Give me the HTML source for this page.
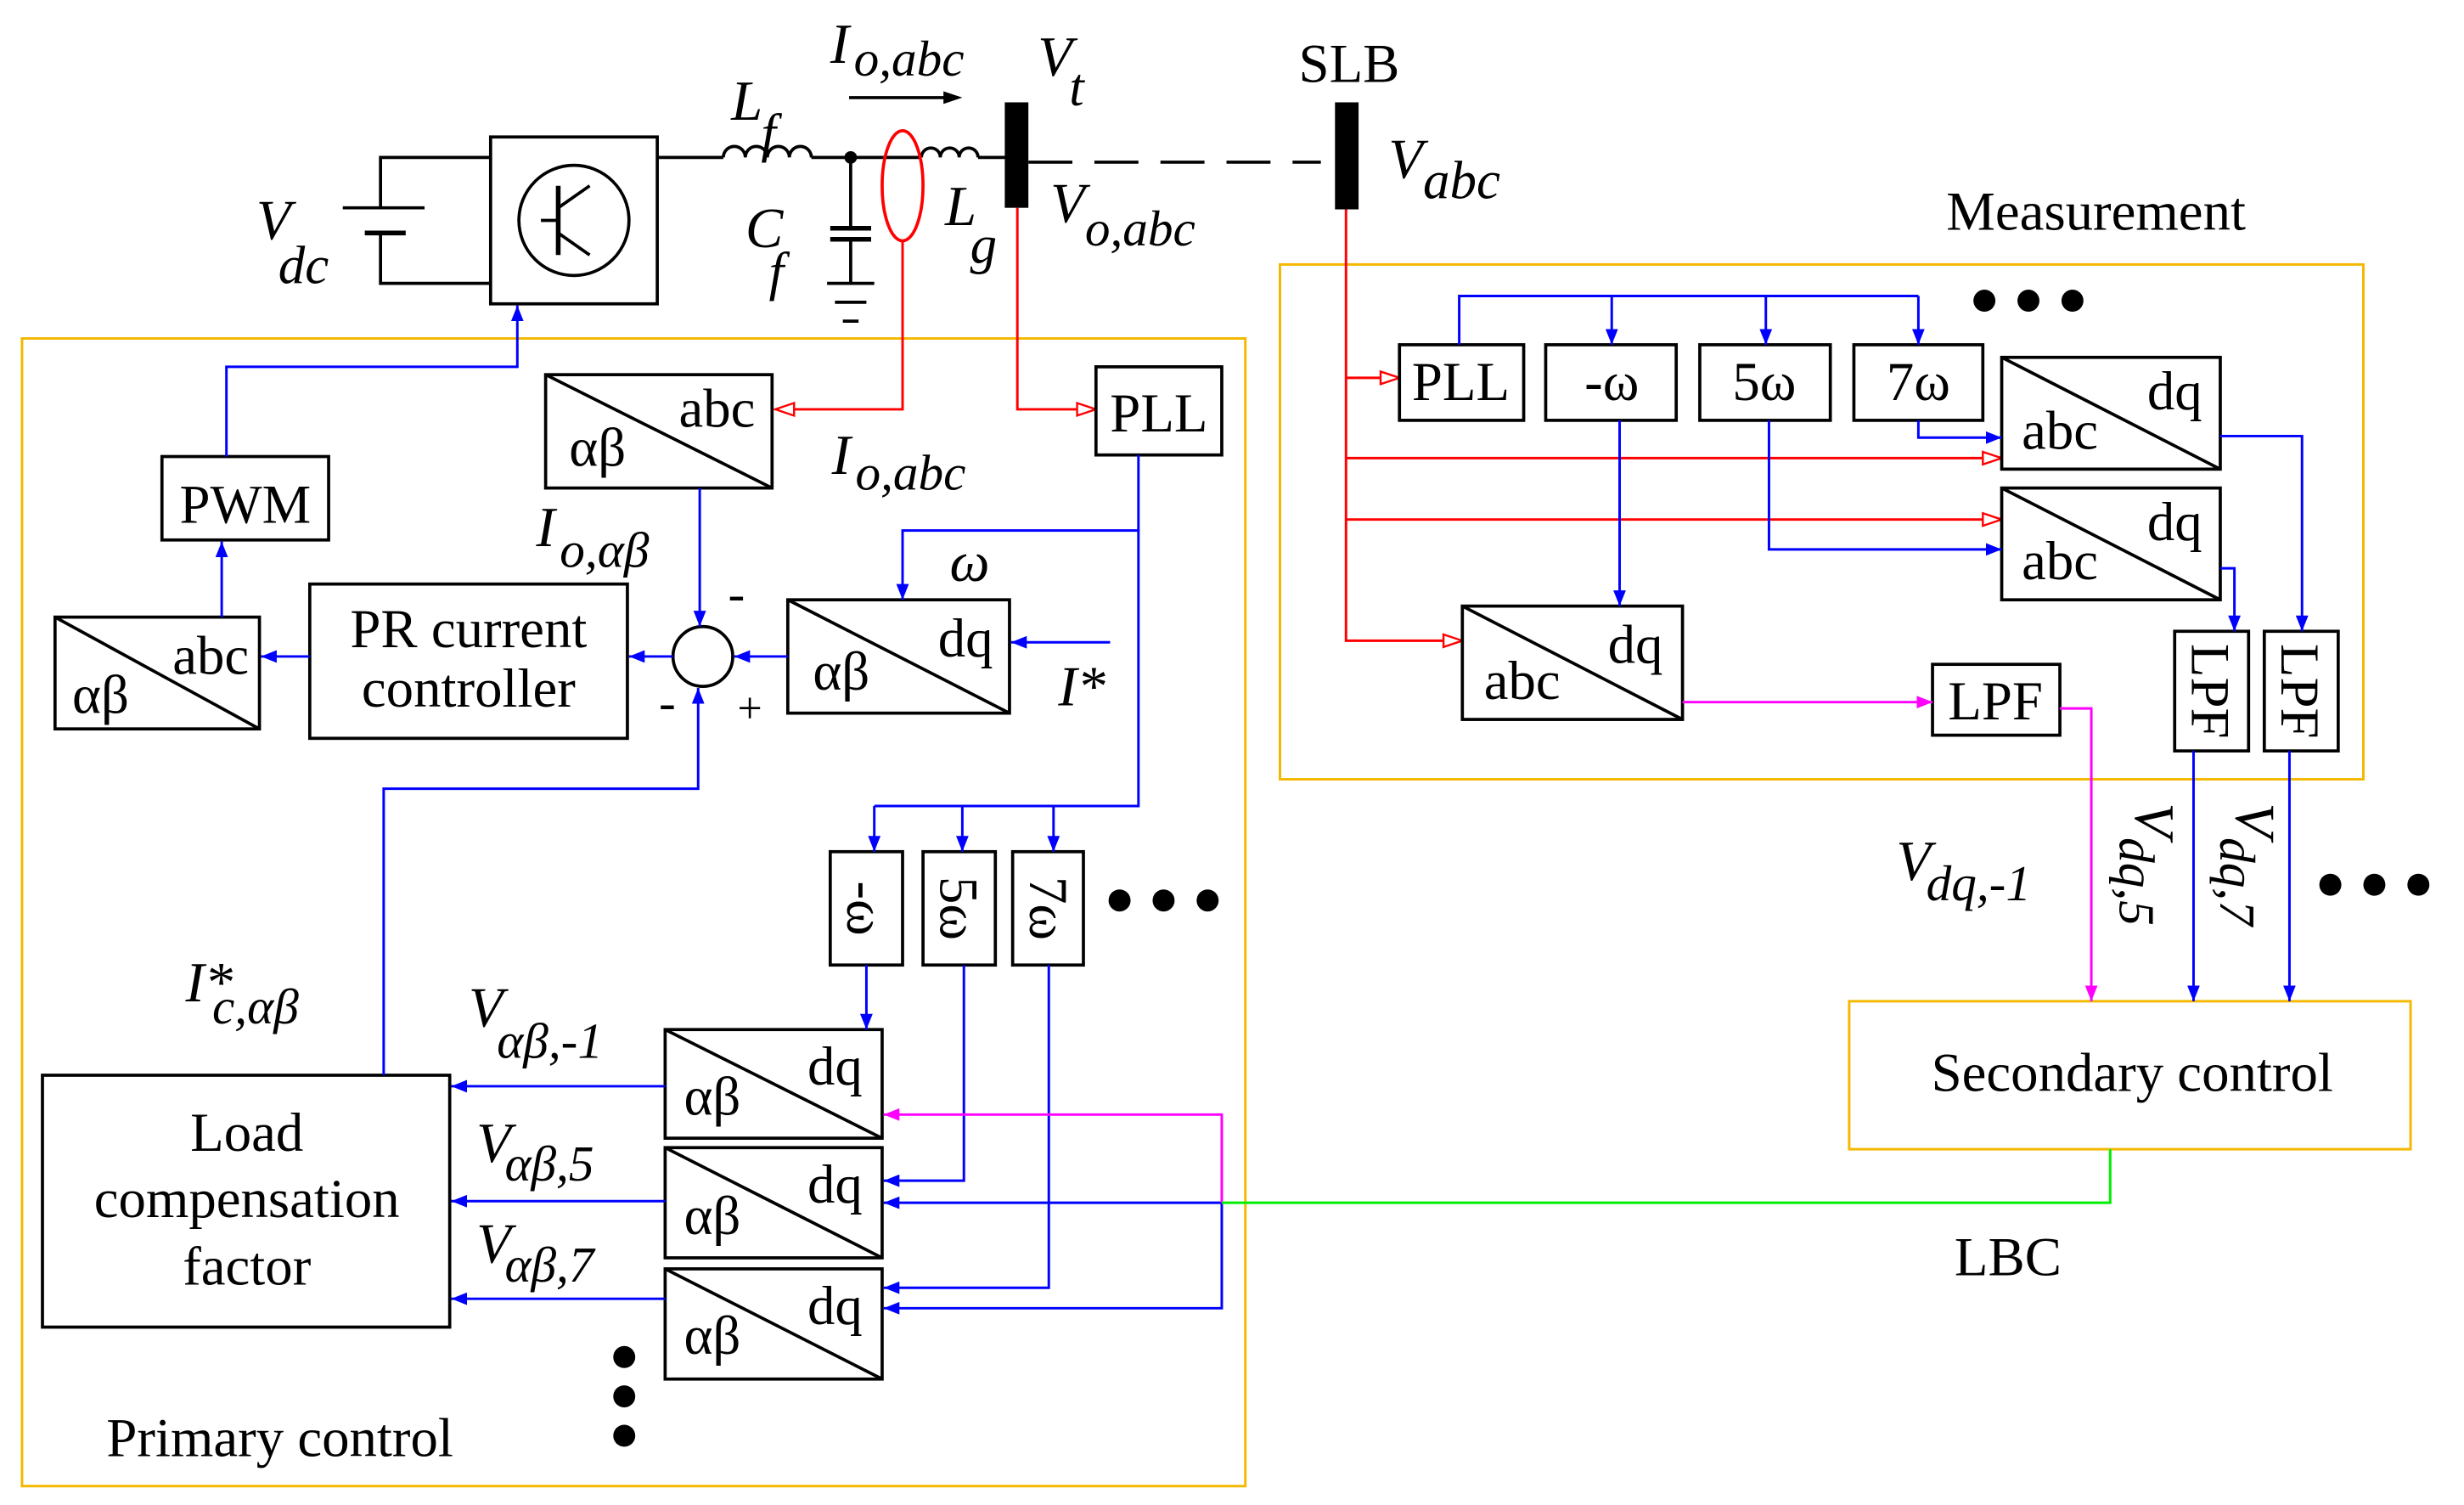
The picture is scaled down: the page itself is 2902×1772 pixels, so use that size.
<!DOCTYPE html>
<html><head><meta charset="utf-8"><style>
html,body{margin:0;padding:0;background:#fff}
svg{display:block}
text{font-family:"Liberation Serif",serif;fill:#000}
.i{font-style:italic}
</style></head><body>
<svg width="2902" height="1772" viewBox="0 0 1567 956" preserveAspectRatio="none" xmlns="http://www.w3.org/2000/svg">
<defs>
<marker id="b" markerWidth="10" markerHeight="8" refX="10" refY="4" orient="auto" markerUnits="userSpaceOnUse"><path d="M0,0L10,4L0,8z" fill="#0000ff"/></marker>
<marker id="m" markerWidth="10" markerHeight="8" refX="10" refY="4" orient="auto" markerUnits="userSpaceOnUse"><path d="M0,0L10,4L0,8z" fill="#ff00ff"/></marker>
<marker id="r" markerWidth="14" markerHeight="10" refX="13" refY="5" orient="auto" markerUnits="userSpaceOnUse"><path d="M1,1L13,5L1,9z" fill="#fff" stroke="#ff0000" stroke-width="1.3"/></marker>
</defs>
<rect width="1600" height="1000" fill="#fff"/>
<g fill="none" stroke="#f5b800" stroke-width="1.6">
<rect x="14" y="215" width="778" height="729"/>
<rect x="814" y="168" width="689" height="327"/>
<rect x="1176" y="636" width="357" height="94"/>
</g>
<g fill="none" stroke="#000" stroke-width="2">
<polyline points="312,100 242,100 242,132"/>
<polyline points="312,180 242,180 242,148"/>
<line x1="218" y1="132" x2="270" y2="132"/>
<line x1="232" y1="148" x2="258" y2="148" stroke-width="3"/>
<rect x="312" y="87" width="106" height="106"/>
<circle cx="365" cy="140" r="35"/>
<line x1="355" y1="118" x2="355" y2="162" stroke-width="3"/>
<line x1="344" y1="140" x2="355" y2="140"/>
<line x1="355" y1="132" x2="375" y2="118"/>
<line x1="355" y1="148" x2="375" y2="162"/>
<line x1="418" y1="100" x2="460" y2="100"/>
<path d="M460,100 a7,7 0 0 1 14,0 a7,7 0 0 1 14,0 a7,7 0 0 1 14,0 a7,7 0 0 1 14,0"/>
<line x1="516" y1="100" x2="586" y2="100"/>
<path d="M586,100 a6,6 0 0 1 12,0 a6,6 0 0 1 12,0 a6,6 0 0 1 12,0"/>
<line x1="622" y1="100" x2="640" y2="100"/>
<line x1="541" y1="100" x2="541" y2="145"/>
<line x1="528" y1="145" x2="554" y2="145" stroke-width="3"/>
<line x1="528" y1="152" x2="554" y2="152" stroke-width="3"/>
<line x1="541" y1="152" x2="541" y2="180"/>
<line x1="526" y1="180" x2="556" y2="180"/>
<line x1="531" y1="192" x2="551" y2="192"/>
<line x1="536" y1="204" x2="546" y2="204"/>
<line x1="654" y1="103" x2="840" y2="103" stroke-dasharray="28,14"/>
<line x1="540" y1="62" x2="604" y2="62"/>
</g>
<path d="M612,62 L600,58 L600,66z" fill="#000"/>
<circle cx="541" cy="100" r="4" fill="#000"/>
<rect x="639" y="65" width="15" height="67" fill="#000"/>
<rect x="849" y="65" width="15" height="68" fill="#000"/>
<ellipse cx="574" cy="118" rx="13" ry="35" fill="none" stroke="#ff0000" stroke-width="2"/>
<g fill="none" stroke="#ff0000" stroke-width="1.6">
<polyline points="574,153 574,260 493,260" marker-end="url(#r)"/>
<polyline points="647,132 647,260 697,260" marker-end="url(#r)"/>
<polyline points="856,133 856,407 930,407" marker-end="url(#r)"/>
<line x1="856" y1="240" x2="890" y2="240" marker-end="url(#r)"/>
<line x1="856" y1="291" x2="1273" y2="291" marker-end="url(#r)"/>
<line x1="856" y1="330" x2="1273" y2="330" marker-end="url(#r)"/>
</g>
<g fill="#fff" stroke="#000" stroke-width="2">
<rect x="347" y="238" width="144" height="72"/><line x1="347" y1="238" x2="491" y2="310"/>
<rect x="697" y="233" width="80" height="56"/>
<rect x="103" y="290" width="106" height="53"/>
<rect x="35" y="392" width="130" height="71"/><line x1="35" y1="392" x2="165" y2="463"/>
<rect x="197" y="371" width="202" height="98"/>
<circle cx="447" cy="417" r="19"/>
<rect x="501" y="381" width="141" height="72"/><line x1="501" y1="381" x2="642" y2="453"/>
<rect x="528" y="541" width="46" height="72"/>
<rect x="587" y="541" width="46" height="72"/>
<rect x="644" y="541" width="45" height="72"/>
<rect x="27" y="683" width="259" height="160"/>
<rect x="423" y="654" width="138" height="69"/><line x1="423" y1="654" x2="561" y2="723"/>
<rect x="423" y="729" width="138" height="70"/><line x1="423" y1="729" x2="561" y2="799"/>
<rect x="423" y="806" width="138" height="70"/><line x1="423" y1="806" x2="561" y2="876"/>
<rect x="890" y="219" width="79" height="48"/>
<rect x="983" y="219" width="83" height="48"/>
<rect x="1081" y="219" width="83" height="48"/>
<rect x="1179" y="219" width="82" height="48"/>
<rect x="1273" y="227" width="139" height="71"/><line x1="1273" y1="227" x2="1412" y2="298"/>
<rect x="1273" y="310" width="139" height="71"/><line x1="1273" y1="310" x2="1412" y2="381"/>
<rect x="930" y="385" width="140" height="72"/><line x1="930" y1="385" x2="1070" y2="457"/>
<rect x="1229" y="422" width="81" height="45"/>
<rect x="1383" y="401" width="47" height="76"/>
<rect x="1440" y="401" width="47" height="76"/>
</g>
<g fill="none" stroke="#0000ff" stroke-width="1.6">
<line x1="445" y1="310" x2="445" y2="398" marker-end="url(#b)"/>
<polyline points="724,289 724,337 574,337 574,381" marker-end="url(#b)"/>
<polyline points="724,337 724,512 556,512"/>
<line x1="556" y1="512" x2="556" y2="541" marker-end="url(#b)"/>
<line x1="612" y1="512" x2="612" y2="541" marker-end="url(#b)"/>
<line x1="670" y1="512" x2="670" y2="541" marker-end="url(#b)"/>
<line x1="706" y1="408" x2="643" y2="408" marker-end="url(#b)"/>
<line x1="501" y1="417" x2="467" y2="417" marker-end="url(#b)"/>
<line x1="428" y1="417" x2="400" y2="417" marker-end="url(#b)"/>
<line x1="197" y1="417" x2="166" y2="417" marker-end="url(#b)"/>
<line x1="141" y1="392" x2="141" y2="344" marker-end="url(#b)"/>
<polyline points="144,290 144,233 329,233 329,194" marker-end="url(#b)"/>
<polyline points="244,683 244,501 444,501 444,437" marker-end="url(#b)"/>
<line x1="423" y1="690" x2="287" y2="690" marker-end="url(#b)"/>
<line x1="423" y1="763" x2="287" y2="763" marker-end="url(#b)"/>
<line x1="423" y1="825" x2="287" y2="825" marker-end="url(#b)"/>
<line x1="551" y1="613" x2="551" y2="654" marker-end="url(#b)"/>
<polyline points="613,613 613,750 562,750" marker-end="url(#b)"/>
<polyline points="667,613 667,818 562,818" marker-end="url(#b)"/>
<line x1="777" y1="764" x2="562" y2="764" marker-end="url(#b)"/>
<polyline points="777,764 777,831 562,831" marker-end="url(#b)"/>
<polyline points="928,219 928,188 1220,188"/>
<line x1="1025" y1="188" x2="1025" y2="219" marker-end="url(#b)"/>
<line x1="1123" y1="188" x2="1123" y2="219" marker-end="url(#b)"/>
<line x1="1220" y1="188" x2="1220" y2="219" marker-end="url(#b)"/>
<polyline points="1220,267 1220,278 1273,278" marker-end="url(#b)"/>
<line x1="1030" y1="267" x2="1030" y2="385" marker-end="url(#b)"/>
<polyline points="1125,267 1125,349 1273,349" marker-end="url(#b)"/>
<polyline points="1412,277 1464,277 1464,401" marker-end="url(#b)"/>
<polyline points="1412,361 1421,361 1421,401" marker-end="url(#b)"/>
<line x1="1395" y1="477" x2="1395" y2="636" marker-end="url(#b)"/>
<line x1="1456" y1="477" x2="1456" y2="636" marker-end="url(#b)"/>
</g>
<g fill="none" stroke="#ff00ff" stroke-width="1.6">
<polyline points="777,764 777,708 562,708" marker-end="url(#m)"/>
<line x1="1070" y1="446" x2="1229" y2="446" marker-end="url(#m)"/>
<polyline points="1310,450 1330,450 1330,636" marker-end="url(#m)"/>
</g>
<polyline points="1342,730 1342,764 777,764" fill="none" stroke="#00ee00" stroke-width="1.6"/>
<g fill="#000">
<circle cx="1262" cy="191" r="7"/><circle cx="1290" cy="191" r="7"/><circle cx="1318" cy="191" r="7"/>
<circle cx="712" cy="572" r="7"/><circle cx="740" cy="572" r="7"/><circle cx="768" cy="572" r="7"/>
<circle cx="1482" cy="562" r="7"/><circle cx="1510" cy="562" r="7"/><circle cx="1538" cy="562" r="7"/>
<circle cx="397" cy="862" r="7"/><circle cx="397" cy="887" r="7"/><circle cx="397" cy="912" r="7"/>
</g>
<g font-size="35">
<text x="456" y="271" text-anchor="middle">abc</text>
<text x="737" y="274" text-anchor="middle">PLL</text>
<text x="156" y="332" text-anchor="middle">PWM</text>
<text x="134" y="428" text-anchor="middle">abc</text>
<text x="64" y="453" text-anchor="middle">αβ</text>
<text x="298" y="411" text-anchor="middle">PR current</text>
<text x="298" y="449" text-anchor="middle">controller</text>
<text x="614" y="417" text-anchor="middle">dq</text>
<text x="535" y="438" text-anchor="middle">αβ</text>
<text x="380" y="296" text-anchor="middle">αβ</text>
<text x="157" y="731" text-anchor="middle">Load</text>
<text x="157" y="773" text-anchor="middle">compensation</text>
<text x="157" y="816" text-anchor="middle">factor</text>
<text x="531" y="689" text-anchor="middle">dq</text><text x="453" y="708" text-anchor="middle">αβ</text>
<text x="531" y="764" text-anchor="middle">dq</text><text x="453" y="784" text-anchor="middle">αβ</text>
<text x="531" y="841" text-anchor="middle">dq</text><text x="453" y="860" text-anchor="middle">αβ</text>
<text x="929" y="254" text-anchor="middle">PLL</text>
<text x="1025" y="254" text-anchor="middle">-ω</text>
<text x="1122" y="254" text-anchor="middle">5ω</text>
<text x="1220" y="254" text-anchor="middle">7ω</text>
<text x="1383" y="260" text-anchor="middle">dq</text><text x="1310" y="285" text-anchor="middle">abc</text>
<text x="1383" y="343" text-anchor="middle">dq</text><text x="1310" y="368" text-anchor="middle">abc</text>
<text x="1040" y="421" text-anchor="middle">dq</text><text x="968" y="444" text-anchor="middle">abc</text>
<text x="1269" y="457" text-anchor="middle">LPF</text>
<text transform="translate(1394,439) rotate(90)" text-anchor="middle">LPF</text>
<text transform="translate(1451,439) rotate(90)" text-anchor="middle">LPF</text>
<text transform="translate(539,577) rotate(90)" text-anchor="middle">-ω</text>
<text transform="translate(598,577) rotate(90)" text-anchor="middle">5ω</text>
<text transform="translate(655,577) rotate(90)" text-anchor="middle">7ω</text>
<text x="1333" y="146" text-anchor="middle">Measurement</text>
<text x="1356" y="693" text-anchor="middle">Secondary control</text>
<text x="1277" y="810" text-anchor="middle">LBC</text>
<text x="178" y="925" text-anchor="middle">Primary control</text>
<text x="858" y="52" text-anchor="middle">SLB</text>
<text x="463" y="388" font-size="32">-</text>
<text x="419" y="457" font-size="32">-</text>
<text x="469" y="459" font-size="28">+</text>
</g>
<g font-size="36" class="i">
<text x="163" y="152">V</text><text x="177" y="180" font-size="34">dc</text>
<text x="465" y="76">L</text><text x="484" y="96" font-size="34">f</text>
<text x="474" y="157">C</text><text x="489" y="184" font-size="34">f</text>
<text x="601" y="143">L</text><text x="617" y="167" font-size="34">g</text>
<text x="528" y="40">I</text><text x="543" y="48" font-size="32">o,abc</text>
<text x="660" y="48">V</text><text x="680" y="67" font-size="34">t</text>
<text x="668" y="141">V</text><text x="690" y="156" font-size="32">o,abc</text>
<text x="883" y="113">V</text><text x="905" y="126" font-size="34">abc</text>
<text x="529" y="301">I</text><text x="544" y="311" font-size="32">o,abc</text>
<text x="341" y="347">I</text><text x="356" y="360" font-size="32">o,αβ</text>
<text x="604" y="369">ω</text>
<text x="673" y="448">I*</text>
<text x="118" y="636">I*</text><text x="135" y="650" font-size="32">c,αβ</text>
<text x="298" y="652">V</text><text x="316" y="672" font-size="32">αβ,-1</text>
<text x="303" y="738">V</text><text x="321" y="750" font-size="32">αβ,5</text>
<text x="303" y="802">V</text><text x="321" y="814" font-size="32">αβ,7</text>
<text x="1206" y="559">V</text><text x="1225" y="572" font-size="32">dq,-1</text>
<text transform="translate(1358,510) rotate(90)">V<tspan font-size="32" dy="10">dq,5</tspan></text>
<text transform="translate(1422,510) rotate(90)">V<tspan font-size="32" dy="10">dq,7</tspan></text>
</g>
</svg>
</body></html>
